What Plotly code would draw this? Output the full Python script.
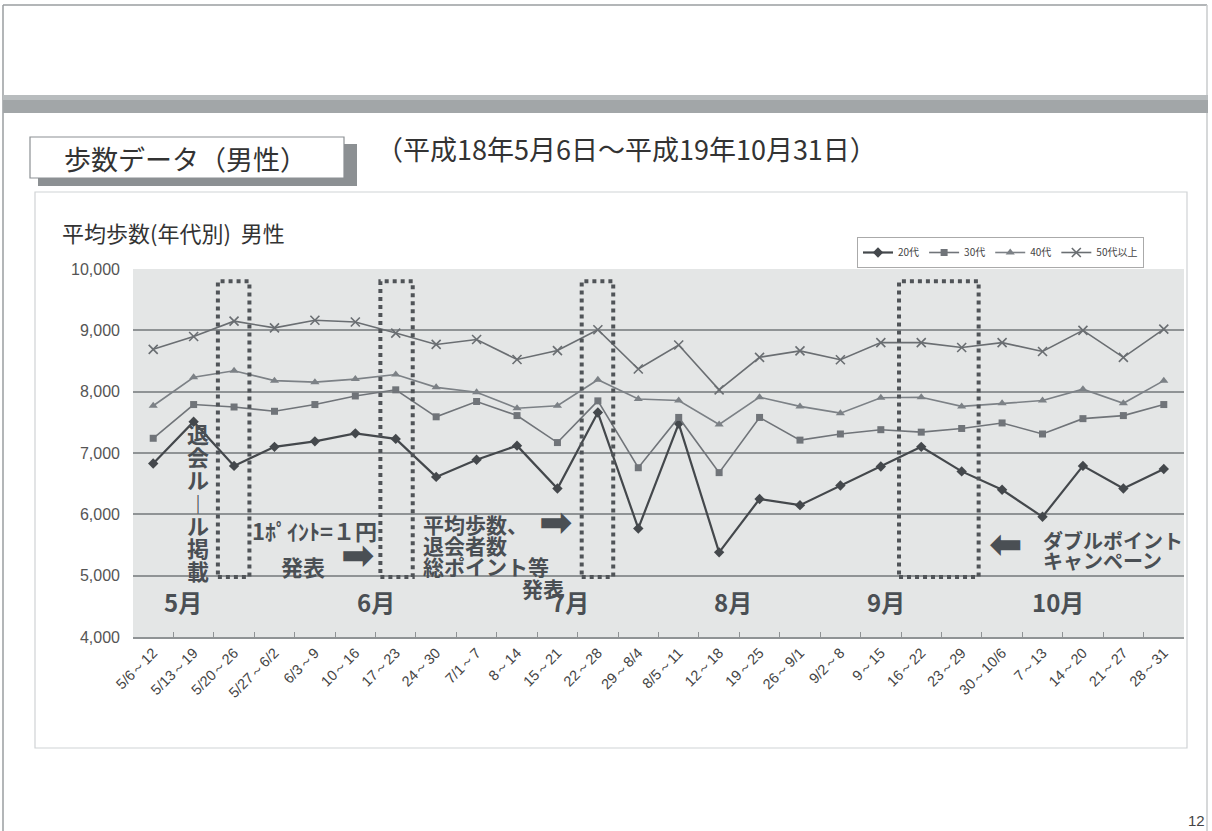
import plotly.graph_objects as go

# ---------------- data ----------------
categories = ["5/6～12", "5/13～19", "5/20～26", "5/27～6/2", "6/3～9", "10～16", "17～23",
              "24～30", "7/1～7", "8～14", "15～21", "22～28", "29～8/4", "8/5～11", "12～18",
              "19～25", "26～9/1", "9/2～8", "9～15", "16～22", "23～29", "30～10/6", "7～13",
              "14～20", "21～27", "28～31"]
age20 = [6830, 7510, 6790, 7100, 7190, 7320, 7230, 6610, 6890, 7120, 6420, 7660, 5770,
         7480, 5380, 6250, 6150, 6470, 6780, 7100, 6700, 6400, 5960, 6790, 6420, 6740]
age30 = [7240, 7790, 7750, 7680, 7790, 7930, 8030, 7590, 7840, 7610, 7170, 7850, 6760,
         7580, 6680, 7580, 7210, 7310, 7380, 7340, 7400, 7490, 7310, 7560, 7610, 7790]
age40 = [7770, 8235, 8340, 8180, 8155, 8205, 8280, 8070, 7990, 7730, 7770, 8195, 7880,
         7855, 7465, 7910, 7760, 7650, 7900, 7910, 7760, 7810, 7855, 8040, 7810, 8180]
age50 = [8690, 8900, 9150, 9040, 9165, 9135, 8955, 8770, 8850, 8525, 8670, 9010, 8370,
         8760, 8030, 8560, 8665, 8520, 8800, 8800, 8720, 8800, 8655, 9000, 8560, 9020]
series_names = ["20代", "30代", "40代", "50代以上"]
y_ticks = [4000, 5000, 6000, 7000, 8000, 9000, 10000]
months = ["5月", "6月", "7月", "8月", "9月", "10月"]

# ---------------- geometry helpers ----------------
W_, H_ = 1212, 831
L, R, T, B = 133, 1184, 269, 637
def px(x):
    return (x - L) / (R - L)
def py(y):
    return (B - y) / (B - T)

JP = "Noto Sans CJK JP"
TXT = "#4a4f54"

fig = go.Figure()
styles = [
    dict(color="#44484c", width=2.2, symbol="diamond", size=8, mline=0),
    dict(color="#707479", width=1.6, symbol="square", size=7, mline=0),
    dict(color="#7c8186", width=1.6, symbol="triangle-up", size=8, mline=0),
    dict(color="#6a6e72", width=1.6, symbol="x-thin", size=9, mline=1.6),
]
for name, vals, st in zip(series_names, [age20, age30, age40, age50], styles):
    fig.add_trace(go.Scatter(
        x=categories, y=vals, name=name, mode="lines+markers",
        line=dict(color=st["color"], width=st["width"]),
        marker=dict(symbol=st["symbol"], size=st["size"], color=st["color"],
                    line=dict(color=st["color"], width=st["mline"])),
    ))

shapes = []
# page frame lines
shapes.append(dict(type="line", xref="paper", yref="paper", x0=px(3), x1=px(1207), y0=py(5), y1=py(5),
                   line=dict(color="#9a9ea0", width=1.5)))
shapes.append(dict(type="line", xref="paper", yref="paper", x0=px(3), x1=px(3), y0=py(5), y1=py(831),
                   line=dict(color="#9a9ea0", width=1.5)))
shapes.append(dict(type="line", xref="paper", yref="paper", x0=px(1207), x1=px(1207), y0=py(5), y1=py(831),
                   line=dict(color="#c8cbcd", width=1.5)))
# band
shapes.append(dict(type="rect", xref="paper", yref="paper", x0=px(3), x1=px(1208), y0=py(95), y1=py(113),
                   fillcolor="#a2a6a8", line=dict(width=0)))
shapes.append(dict(type="rect", xref="paper", yref="paper", x0=px(3), x1=px(1208), y0=py(95), y1=py(100),
                   fillcolor="#b8bcbe", line=dict(width=0)))
# title box + shadow
shapes.append(dict(type="rect", xref="paper", yref="paper", x0=px(38), x1=px(357), y0=py(144), y1=py(186),
                   fillcolor="#8c9093", line=dict(width=0)))
shapes.append(dict(type="rect", xref="paper", yref="paper", x0=px(30), x1=px(344), y0=py(137), y1=py(178),
                   fillcolor="white", line=dict(color="#8c9093", width=1.2)))
# chart frame
shapes.append(dict(type="rect", xref="paper", yref="paper", x0=px(35), x1=px(1187), y0=py(192), y1=py(748),
                   line=dict(color="#d0d3d5", width=1.2), fillcolor="rgba(0,0,0,0)"))
# dotted event boxes (category index, value)
for x0, x1 in [(1.6, 2.38), (5.62, 6.42), (10.6, 11.38), (18.45, 20.42)]:
    shapes.append(dict(type="rect", xref="x", yref="y", x0=x0, x1=x1, y0=4980, y1=9800,
                       line=dict(color="#505458", width=4, dash="dot"), layer="above"))

ann = []
def t(x, y, text, size=22, color=TXT, bold=True, xref="x", yref="y", xanchor="center", font=JP):
    ann.append(dict(x=x, y=y, xref=xref, yref=yref, text=("<b>%s</b>" % text) if bold else text,
                    showarrow=False, xanchor=xanchor, yanchor="middle",
                    font=dict(family=font, size=size, color=color)))

# vertical text
for i, ch in enumerate(["退", "会", "ル", "︱", "ル", "掲", "載"]):
    t(1.1, 7320 - i * 372, ch, size=22)
t(4.0, 5746, "1ﾎﾟｲﾝﾄ=１円", size=22)
t(3.7, 5151, "発表", size=22)
t(5.06, 5330, "➡", size=40, font="DejaVu Sans")
t(6.62, 5850, "平均歩数、", size=21, xanchor="left")
t(6.62, 5500, "退会者数", size=21, xanchor="left")
t(6.62, 5150, "総ポイント等", size=21, xanchor="left")
t(9.65, 4800, "発表", size=21)
t(9.96, 5871, "➡", size=40, font="DejaVu Sans")
t(21.1, 5520, "⬅", size=40, font="DejaVu Sans")
t(21.95, 5568, "ダブルポイント", size=20, xanchor="left")
t(21.95, 5243, "キャンペーン", size=20, xanchor="left")
for m, mx in zip(months, [0.73, 5.5, 10.3, 14.34, 18.13, 22.39]):
    t(mx, 4580, m, size=24)

# page texts
t(px(185), py(158), "歩数データ（男性）", size=27, color="#333333", bold=False, xref="paper", yref="paper")
t(px(374), py(148), "（平成18年5月6日～平成19年10月31日）", size=27, color="#333333", bold=False,
  xref="paper", yref="paper", xanchor="left")
t(px(60), py(232), "平均歩数(年代別)  男性", size=22, color="#333333", bold=False,
  xref="paper", yref="paper", xanchor="left")
t(px(1196), py(820), "12", size=15, color="#444444", bold=False, xref="paper", yref="paper",
  font="Liberation Sans")

fig.update_layout(
    width=W_, height=H_, autosize=False,
    margin=dict(l=L, r=W_ - R, t=T, b=H_ - B),
    paper_bgcolor="white", plot_bgcolor="#e4e6e6",
    showlegend=True,
    legend=dict(orientation="h", x=px(857), y=py(237), xanchor="left", yanchor="top",
                font=dict(family=JP, size=10, color="#444"), bgcolor="white",
                bordercolor="#aaaaaa", borderwidth=1, itemwidth=30, tracegroupgap=0),
    shapes=shapes, annotations=ann,
    xaxis=dict(type="category", tickangle=-45, showgrid=False,
               tickfont=dict(family="Liberation Sans", size=14.5, color="#444"),
               ticks="inside", ticklen=5, tickcolor="#8f9395", tickson="boundaries",
               showline=True, linecolor="#8f9395", linewidth=1.5, range=[-0.5, 25.5]),
    yaxis=dict(range=[4000, 10000], tickvals=y_ticks, tickformat=",d",
               tickfont=dict(family="Liberation Sans", size=16, color="#555"),
               showgrid=True, gridcolor="#8f9395", gridwidth=1.5, zeroline=False,
               ticks="", ticklabelstandoff=12),
)
fig.write_html("out.html")
